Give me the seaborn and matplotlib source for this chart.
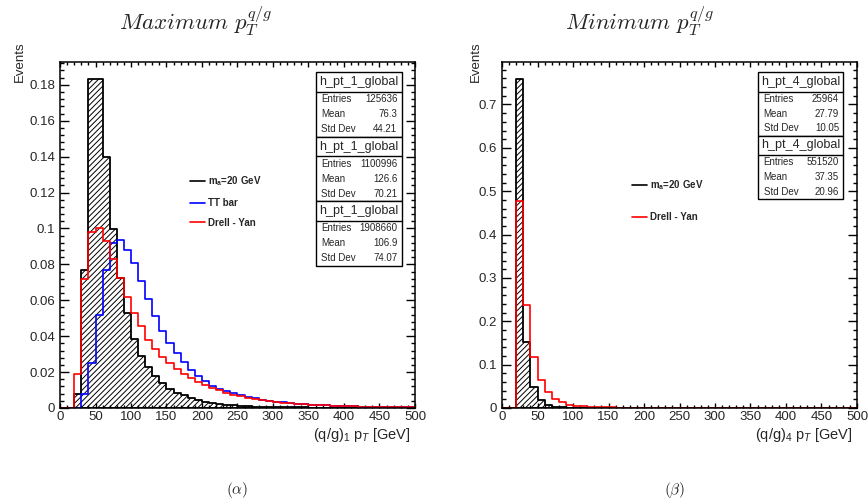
import numpy as np
import pandas as pd
import matplotlib
matplotlib.use("Agg")
import matplotlib.pyplot as plt
import seaborn as sns
from matplotlib.patches import Rectangle
from matplotlib.lines import Line2D
from matplotlib.ticker import MultipleLocator, FuncFormatter

# ---------------- data ----------------
bin_width = 10
bin_range = (0, 500)
bin_centers = np.arange(5, 500, 10)          # 50 bins of 10 GeV

# Left panel: leading (q/g) pT
max_signal = [0, 0, 0.008, 0.0767, 0.1835, 0.1830, 0.140, 0.0996, 0.0725, 0.053,
              0.0386, 0.0289, 0.0226, 0.0176, 0.0137, 0.0105, 0.0086, 0.0072, 0.0058, 0.0045,
              0.0035, 0.0027, 0.0021, 0.0017, 0.0014, 0.0012, 0.0010, 0.0008, 0.0007, 0.0006,
              0.0005, 0.0004, 0.0004, 0.0003, 0.0003, 0.0002, 0.0002, 0.0002, 0.0001, 0.0001,
              0.0001, 0.0001, 0.0001, 0.0001, 0, 0, 0, 0, 0, 0]
max_ttbar = [0, 0, 0, 0.0078, 0.025, 0.0518, 0.077, 0.0917, 0.0936, 0.088,
             0.0807, 0.0705, 0.0607, 0.051, 0.043, 0.0362, 0.0306, 0.0254, 0.0213, 0.0176,
             0.0148, 0.0125, 0.0108, 0.0094, 0.0082, 0.0071, 0.0062, 0.0054, 0.0047, 0.0041,
             0.0036, 0.0031, 0.0027, 0.0024, 0.0021, 0.0018, 0.0016, 0.0014, 0.0012, 0.0011,
             0.0010, 0.0009, 0.0008, 0.0007, 0.0006, 0.0006, 0.0005, 0.0005, 0.0004, 0.0004]
max_dy = [0, 0, 0.019, 0.072, 0.098, 0.1005, 0.093, 0.083, 0.0725, 0.062,
          0.053, 0.0455, 0.038, 0.033, 0.0285, 0.025, 0.0215, 0.019, 0.0165, 0.0145,
          0.0128, 0.0112, 0.0098, 0.0086, 0.0075, 0.0066, 0.0058, 0.0050, 0.0044, 0.0039,
          0.0034, 0.0030, 0.0026, 0.0023, 0.0020, 0.0018, 0.0016, 0.0014, 0.0012, 0.0011,
          0.0010, 0.0009, 0.0008, 0.0007, 0.0006, 0.0005, 0.0005, 0.0004, 0.0004, 0.0003]

# Right panel: 4th (q/g) pT
min_signal = [0, 0, 0.759, 0.1526, 0.0483, 0.0176, 0.0077, 0.0032, 0.0015, 0.0008,
              0.0004, 0.0002, 0.0001] + [0] * 37
min_dy = [0, 0, 0.477, 0.2377, 0.117, 0.064, 0.036, 0.0207, 0.0128, 0.0080,
          0.0055, 0.0040, 0.0030, 0.0023, 0.0018, 0.0014, 0.0011, 0.0009, 0.0007, 0.0006,
          0.0005, 0.0004, 0.0003, 0.0003, 0.0002, 0.0002, 0.0002, 0.0001, 0.0001, 0.0001,
          0.0001, 0.0001] + [0] * 18

legend_labels = [r"$\mathbf{m_a}$=20 GeV", "TT bar", "Drell - Yan"]

stats_left = [("h_pt_1_global", "125636", "76.3", "44.21"),
              ("h_pt_1_global", "1100996", "126.6", "70.21"),
              ("h_pt_1_global", "1908660", "106.9", "74.07")]
stats_right = [("h_pt_4_global", "25964", "27.79", "10.05"),
               ("h_pt_4_global", "551520", "37.35", "20.96")]

titles = [r"$Maximum\ p_T^{q/g}$", r"$Minimum\ p_T^{q/g}$"]
xlabels = [r"(q/g)$_1$ p$_T$ [GeV]", r"(q/g)$_4$ p$_T$ [GeV]"]
captions = [r"$(\alpha)$", r"$(\beta)$"]

# ---------------- style ----------------
sns.set_style("ticks")
plt.rcParams["font.family"] = ["Liberation Sans", "DejaVu Sans"]
plt.rcParams["mathtext.fontset"] = "custom"
plt.rcParams["mathtext.rm"] = "Liberation Sans"
plt.rcParams["mathtext.it"] = "Liberation Sans:italic"
plt.rcParams["mathtext.bf"] = "Liberation Sans:bold"
plt.rcParams["hatch.linewidth"] = 0.7
plt.rcParams["axes.linewidth"] = 1.1

W, H = 868, 504
fig = plt.figure(figsize=(W / 100, H / 100), dpi=100)

def ax_rect(x0, x1, ytop, ybot):
    return [x0 / W, 1 - ybot / H, (x1 - x0) / W, (ybot - ytop) / H]

ax1 = fig.add_axes(ax_rect(60, 415, 62, 408))
ax2 = fig.add_axes(ax_rect(502, 857, 62, 408))


def draw_hatched(ax, vals):
    df = pd.DataFrame({"pt": bin_centers, "w": vals})
    sns.histplot(data=df, x="pt", weights="w", binwidth=bin_width, binrange=bin_range,
                 element="step", fill=True, color="black", facecolor="none",
                 edgecolor="black", hatch="//////", linewidth=1.3, ax=ax)


def draw_line(ax, vals, color):
    df = pd.DataFrame({"pt": bin_centers, "w": vals})
    sns.histplot(data=df, x="pt", weights="w", binwidth=bin_width, binrange=bin_range,
                 element="step", fill=False, color=color, linewidth=1.2, ax=ax)


draw_hatched(ax1, max_signal)
draw_line(ax1, max_ttbar, "#0000ff")
draw_line(ax1, max_dy, "#ff0000")

draw_hatched(ax2, min_signal)
draw_line(ax2, min_dy, "#ff0000")

fmt = FuncFormatter(lambda v, p: "{:g}".format(round(v, 4)))

for ax, ymax, ymaj, ymin_ in [(ax1, 0.1927, 0.02, 0.004), (ax2, 0.798, 0.1, 0.02)]:
    ax.set_xlim(0, 500)
    ax.set_ylim(0, ymax)
    ax.xaxis.set_major_locator(MultipleLocator(50))
    ax.xaxis.set_minor_locator(MultipleLocator(10))
    ax.yaxis.set_major_locator(MultipleLocator(ymaj))
    ax.yaxis.set_minor_locator(MultipleLocator(ymin_))
    ax.xaxis.set_major_formatter(fmt)
    ax.yaxis.set_major_formatter(fmt)
    ax.tick_params(which="both", direction="in", top=True, right=True,
                   labelsize=9.5, width=1.0, color="black")
    ax.tick_params(axis="x", which="major", length=3.6, pad=2)
    ax.tick_params(axis="x", which="minor", length=2.0)
    ax.tick_params(axis="y", which="major", length=6.5, pad=3.5)
    ax.tick_params(axis="y", which="minor", length=3.2)
    for s in ax.spines.values():
        s.set_visible(True)
        s.set_color("black")

ax1.set_ylabel("Events", fontsize=9.5, ha="center", va="top")
ax1.yaxis.set_label_coords(-0.13, 1.0)
ax2.set_ylabel("Events", fontsize=9.5, ha="center", va="top")
ax2.yaxis.set_label_coords(-0.09, 1.0)

for ax, xl in [(ax1, xlabels[0]), (ax2, xlabels[1])]:
    ax.set_xlabel(xl, fontsize=10.5, ha="right", va="top")
    ax.xaxis.set_label_coords(0.989, -0.052)

# legends
h_sig = Line2D([], [], color="black", lw=1.2)
h_tt = Line2D([], [], color="#0000ff", lw=1.2)
h_dy = Line2D([], [], color="#ff0000", lw=1.2)
leg_kw = dict(frameon=False, loc="upper left", borderpad=0, borderaxespad=0,
              handlelength=1.5, handletextpad=0.35,
              prop={"weight": "bold", "size": 7})
ax1.legend([h_sig, h_tt, h_dy], legend_labels, bbox_to_anchor=(0.366, 0.675),
           labelspacing=1.0, **leg_kw)
ax2.legend([h_sig, h_dy], [legend_labels[0], legend_labels[2]],
           bbox_to_anchor=(0.366, 0.665), labelspacing=2.1, **leg_kw)


def stat_boxes(ax, stats, xl, xr, top, bh, th):
    rh = (bh - th) / 3
    for i, (name, ent, mean, std) in enumerate(stats):
        t = top - i * bh
        ax.add_patch(Rectangle((xl, t - bh), xr - xl, bh, transform=ax.transAxes,
                               facecolor="white", edgecolor="black", lw=1.0,
                               zorder=10))
        ax.add_line(Line2D([xl, xr], [t - th, t - th], transform=ax.transAxes,
                           color="black", lw=1.0, zorder=11))
        ax.text((xl + xr) / 2, t - th / 2, name, transform=ax.transAxes,
                ha="center", va="center", fontsize=9, zorder=12)
        for j, (k, v) in enumerate([("Entries", ent), ("Mean", mean), ("Std Dev", std)]):
            yy = t - th - rh * (j + 0.5)
            ax.text(xl + 0.015, yy, k, transform=ax.transAxes, ha="left",
                    va="center", fontsize=7, zorder=12)
            ax.text(xr - 0.012, yy, v, transform=ax.transAxes, ha="right",
                    va="center", fontsize=7, zorder=12)


stat_boxes(ax1, stats_left, 0.720, 0.9625, 0.970, 0.1864, 0.056)
stat_boxes(ax2, stats_right, 0.722, 0.9614, 0.970, 0.1830, 0.056)

# titles and captions
fig.text(196 / W, 1 - 30 / H, titles[0], fontsize=16.5, ha="center", va="baseline",
         math_fontfamily="cm")
fig.text(640 / W, 1 - 30 / H, titles[1], fontsize=16.5, ha="center", va="baseline",
         math_fontfamily="cm")
fig.text(237 / W, 1 - 490 / H, captions[0], fontsize=11, ha="center", va="center",
         math_fontfamily="cm")
fig.text(675 / W, 1 - 490 / H, captions[1], fontsize=11, ha="center", va="center",
         math_fontfamily="cm")

fig.savefig("out.png", dpi=100, facecolor="white")
